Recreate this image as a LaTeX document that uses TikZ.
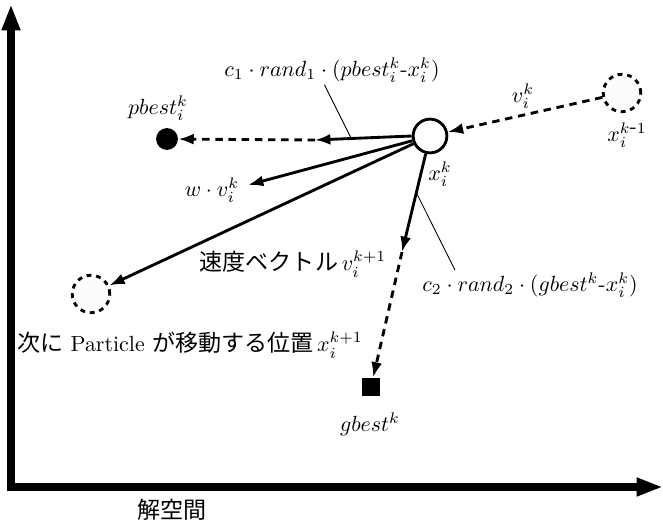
\documentclass[tikz,border=0pt]{standalone}
\usepackage{fontspec}
\newfontfamily\jp[Scale=1.05]{Noto Sans CJK JP}
\usetikzlibrary{arrows.meta}

\begin{document}
\begin{tikzpicture}[
    x=0.016cm, y=-0.016cm,
    axis/.style={line width=3.2pt, -{Triangle[length=12pt,width=7.8pt]}},
    vec/.style={line width=1.3pt, -{Latex[length=7pt,width=5pt]}},
    dvec/.style={vec, dash pattern=on 3.4pt off 2.6pt},
    pinline/.style={line width=0.4pt},
    now/.style={circle, draw, line width=1.3pt, fill=white,
      minimum size=0.54cm, inner sep=0pt},
    ghost/.style={circle, draw, line width=1.3pt, fill=black!1,
      dash pattern=on 2.2pt off 2.2pt, minimum size=0.6cm, inner sep=0pt},
    lbl/.style={inner sep=1pt}
  ]
    \useasboundingbox (0,0) rectangle (663,526);
    % axes
    \coordinate (o) at (11,487);
    \coordinate (ytop) at (11,4);
    \coordinate (xend) at (663,487);
    \draw[axis] ([yshift=-1.6pt]o) -- (ytop);
    \draw[axis] ([xshift=-1.6pt]o) -- (xend);
    \node[lbl] (space) at (172,510) {\jp 解空間};
    % particles
    \node[now] (xk) at (430,136) {};
    \node[ghost] (xprev) at (622,93) {};
    \node[ghost] (xnext) at (91,294) {};
    \node[circle, fill=black, minimum size=0.35cm, inner sep=0pt] (pb) at (167,139) {};
    \node[rectangle, fill=black, minimum size=0.29cm, inner sep=0pt] (gb) at (371,387) {};
    \node[lbl] (xkl) at (440,174) {$x_i^k$};
    \node[lbl] (xprevl) at (627,135) {$x_i^{k\mbox{-}1}$};
    \node[lbl] (pbl) at (158,108) {$pbest_i^k$};
    \node[lbl] (gbl) at (370,424) {$gbest^k$};
    \node[lbl] (vkl) at (523,96) {$v_i^k$};
    % velocity terms
    \coordinate (p1) at (315,140);
    \coordinate (g1) at (402,252);
    \coordinate (wv) at (248,185);
    \draw[dvec] (xprev) -- (xk);
    \draw[vec] (xk.west) -- (p1);
    \draw[dvec] (p1) -- (pb);
    \draw[vec] (xk) -- (wv);
    \draw[vec] (xk) -- (xnext);
    \draw[vec] (xk) -- (g1);
    \draw[dvec] (g1) -- (gb);
    \node[lbl] (wvl) at (212,190) {$w \cdot v_i^k$};
    \node[lbl] (vnl) at (293,264) {{\jp 速度ベクトル}$\,v_i^{k+1}$};
    \node[lbl] (xnl) at (190,345) {{\jp 次に} Particle {\jp が移動する位置}$\,x_i^{k+1}$};
    \node[lbl] (c1) at (332,70) {$c_1 \cdot rand_1 \cdot (pbest_i^k \mbox{-} x_i^k)$};
    \node[lbl] (c2) at (530,285) {$c_2 \cdot rand_2 \cdot (gbest^k \mbox{-} x_i^k)$};
    \coordinate (pc1) at (352,140);
    \coordinate (pc2) at (416,192);
    \draw[pinline] ([xshift=-0.12cm]c1.south) -- (pc1);
    \draw[pinline] ([xshift=-1.2cm]c2.north) -- (pc2);
  \end{tikzpicture}
\end{document}
